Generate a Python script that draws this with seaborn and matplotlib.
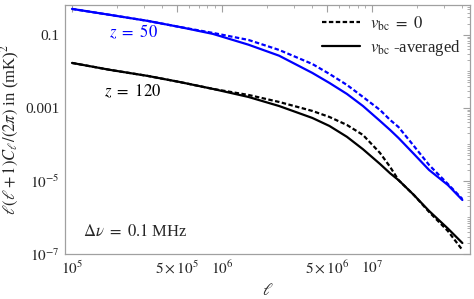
"""21-cm angular power spectrum at z=50 and z=120, with and without v_bc."""

import matplotlib
matplotlib.use("Agg")
import matplotlib.pyplot as plt
from matplotlib.lines import Line2D
from matplotlib.ticker import FixedLocator, LogLocator, NullFormatter
import numpy as np
import pandas as pd
import seaborn as sns

# multipole values
ell = [1.0e5, 1.8e5, 3.2e5, 5.2e5, 8.7e5, 1.5e6, 2.4e6, 4.0e6, 5.2e6,
       6.8e6, 8.7e6, 1.13e7, 1.32e7, 1.5e7, 1.9e7, 2.4e7, 3.2e7, 4.0e7]

# l(l+1)C_l/(2pi) in mK^2
z50_avg = [0.516, 0.353, 0.242, 0.1655, 0.1065, 0.054, 0.027, 9.10e-3, 4.84e-3,
           2.42e-3, 1.13e-3, 4.41e-4, 2.49e-4, 1.51e-4, 5.50e-5, 2.0e-5, 7.76e-6,
           3.01e-6]
z50_zero = [0.516, 0.353, 0.242, 0.1655, 0.1135, 0.0729, 0.0388, 0.0160, 8.55e-3,
            4.27e-3, 2.0e-3, 8.81e-4, 4.69e-4, 3.01e-4, 9.10e-5, 2.74e-5, 8.28e-6,
            3.21e-6]
z120_avg = [0.0171, 0.0110, 7.53e-3, 5.15e-3, 3.32e-3, 2.0e-3, 1.13e-3, 5.32e-4,
            3.21e-4, 1.62e-4, 7.4e-5, 2.92e-5, 1.62e-5, 1.06e-5, 4.13e-6, 1.51e-6,
            5.0e-7, 2.0e-7]
z120_zero = [0.0171, 0.0110, 7.53e-3, 5.15e-3, 3.32e-3, 2.27e-3, 1.46e-3, 8.28e-4,
             5.66e-4, 3.42e-4, 1.82e-4, 5.85e-5, 2.42e-5, 1.06e-5, 4.13e-6, 1.42e-6,
             4.27e-7, 1.29e-7]

x_ticks = [1e5, 5e5, 1e6, 5e6, 1e7]
x_tick_labels = [r"$10^5$", r"$5\times10^5$", r"$10^6$", r"$5\times10^6$", r"$10^7$"]
y_ticks = [1e-1, 1e-3, 1e-5, 1e-7]
y_tick_labels = ["0.1", "0.001", r"$10^{-5}$", r"$10^{-7}$"]

sns.set_style("white")
plt.rcParams.update({
    "font.family": "serif",
    "font.serif": ["Liberation Serif", "DejaVu Serif"],
    "mathtext.fontset": "stix",
    "font.size": 11,
    "axes.edgecolor": "#a0a0a0",
    "axes.linewidth": 0.9,
})

DASH = (0, (2.0, 1.1))
LW = 1.6
series = [
    (z50_avg, "blue", "-"),
    (z50_zero, "blue", DASH),
    (z120_avg, "black", "-"),
    (z120_zero, "black", DASH),
]

fig = plt.figure(figsize=(4.74, 2.99), dpi=100)
ax = fig.add_axes([0.137, 0.1505, 0.8546, 0.8328])

for vals, color, ls in series:
    df = pd.DataFrame({"ell": ell, "cl": vals})
    sns.lineplot(data=df, x="ell", y="cl", color=color, lw=LW, linestyle=ls,
                 ax=ax, legend=False)

ax.set_xscale("log")
ax.set_yscale("log")
ax.set_xlim(10 ** 4.953, 10 ** 7.653)
ax.set_ylim(1e-7, 0.66)

ax.xaxis.set_major_locator(FixedLocator(x_ticks))
ax.set_xticklabels(x_tick_labels)
ax.xaxis.set_minor_locator(LogLocator(base=10, subs=np.arange(2, 10)))
ax.xaxis.set_minor_formatter(NullFormatter())
ax.yaxis.set_major_locator(FixedLocator(y_ticks))
ax.set_yticklabels(y_tick_labels)
ax.yaxis.set_minor_locator(LogLocator(base=10, subs=np.arange(1, 10), numticks=20))
ax.yaxis.set_minor_formatter(NullFormatter())
ax.tick_params(which="both", direction="in", top=True, right=True, color="#a0a0a0")
ax.tick_params(which="major", length=5, width=0.8, labelsize=11, pad=4)
ax.tick_params(which="minor", length=2.5, width=0.6)

ax.set_xlabel(r"$\ell$", fontsize=12, labelpad=4)
ax.set_ylabel(r"$\ell(\ell+1)C_\ell/(2\pi)$ in (mK)$^2$", fontsize=12, labelpad=2)

ax.text(2.55e5, 0.121, r"$z\ =\ 50$", color="blue", fontsize=12, ha="center", va="center")
ax.text(2.53e5, 2.74e-3, r"$z\ =\ 120$", color="black", fontsize=12, ha="center", va="center")
ax.text(1.18e5, 4.0e-7, r"$\Delta\nu\ =\ 0.1$ MHz", fontsize=12, ha="left", va="center")

handles = [
    Line2D([], [], color="black", lw=LW, linestyle=DASH),
    Line2D([], [], color="black", lw=LW),
]
ax.legend(handles, [r"$v_{\rm bc}\ =\ 0$", r"$v_{\rm bc}$ -averaged"], loc="upper right",
          frameon=False, fontsize=12, handlelength=2.3, handletextpad=0.6,
          labelspacing=0.3, borderaxespad=0.15)

fig.savefig("out.png", dpi=100)
